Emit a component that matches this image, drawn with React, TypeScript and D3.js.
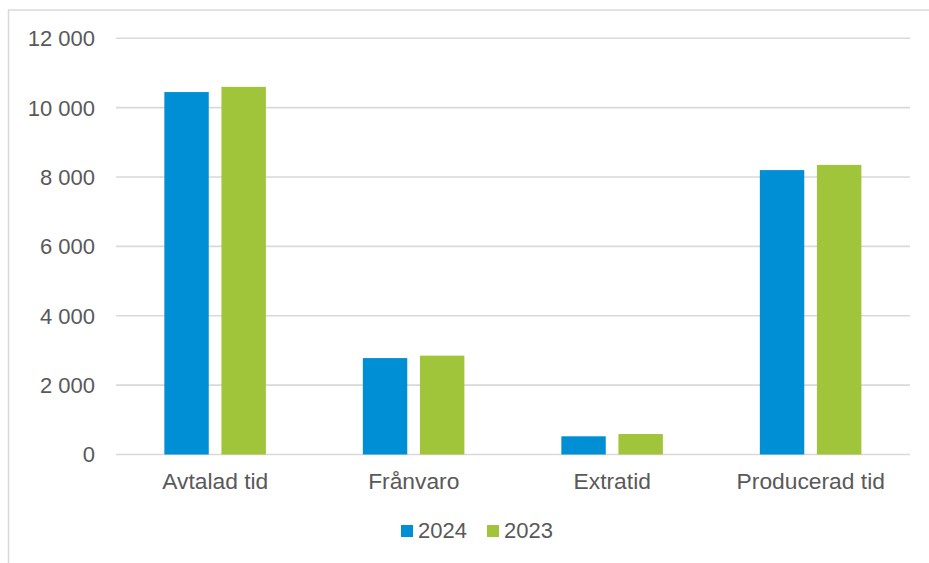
import React from "react";
import * as d3 from "d3";

const categories = ["Avtalad tid", "Frånvaro", "Extratid", "Producerad tid"];
const seriesNames = ["2024", "2023"];
const values2024 = [10450, 2780, 525, 8200];
const values2023 = [10600, 2850, 590, 8350];
const yTicks = [0, 2000, 4000, 6000, 8000, 10000, 12000];
const colors = ["#008FD5", "#A0C43A"];

const W = 929;
const H = 563;
const FONT = "'Liberation Sans', Arial, sans-serif";
const TEXT = "#595959";
const GRID = "#D9D9D9";

const locale = d3.formatLocale({ decimal: ",", thousands: " ", grouping: [3], currency: ["", ""] });
const fmt = locale.format(",d");

export default function App() {
  const x0 = d3.scaleBand<string>().domain(categories).range([116, 910]).padding(0);
  const bw = x0.bandwidth();
  const x1 = d3
    .scaleBand<string>()
    .domain(seriesNames)
    .range([bw * 0.2435, bw * 0.755])
    .paddingInner(0.222)
    .paddingOuter(0);
  const y = d3.scaleLinear().domain([0, 12000]).range([454.5, 38.3]);
  const series = [values2024, values2023];

  return (
    <svg
      width={W}
      height={H}
      style={{ position: "absolute", left: 0, top: 0, background: "#fff" }}
      fontFamily={FONT}
    >
      <rect x={0} y={0} width={W} height={H} fill="#fff" />
      <rect x={8.5} y={10} width={1000} height={1000} fill="none" stroke={GRID} strokeWidth={1.5} />
      {yTicks.map((t) => (
        <g key={t}>
          <line x1={116} x2={910} y1={y(t)} y2={y(t)} stroke={GRID} strokeWidth={1.6} />
          <text x={95} y={y(t)} dy="0.36em" textAnchor="end" fontSize={22} fill={TEXT}>
            {fmt(t)}
          </text>
        </g>
      ))}
      {categories.map((c, i) => (
        <g key={c} transform={`translate(${x0(c)},0)`}>
          {seriesNames.map((s, j) => (
            <rect
              key={s}
              x={x1(s)}
              y={y(series[j][i])}
              width={x1.bandwidth()}
              height={y(0) - y(series[j][i])}
              fill={colors[j]}
            />
          ))}
          <text x={bw / 2} y={489} textAnchor="middle" fontSize={22.8} fill={TEXT}>
            {c}
          </text>
        </g>
      ))}
      {seriesNames.map((s, j) => {
        const lx = j === 0 ? 401 : 487;
        return (
          <g key={s}>
            <rect x={lx} y={525} width={12} height={12} fill={colors[j]} />
            <text x={lx + 17} y={537.5} fontSize={22} fill={TEXT}>
              {s}
            </text>
          </g>
        );
      })}
    </svg>
  );
}
